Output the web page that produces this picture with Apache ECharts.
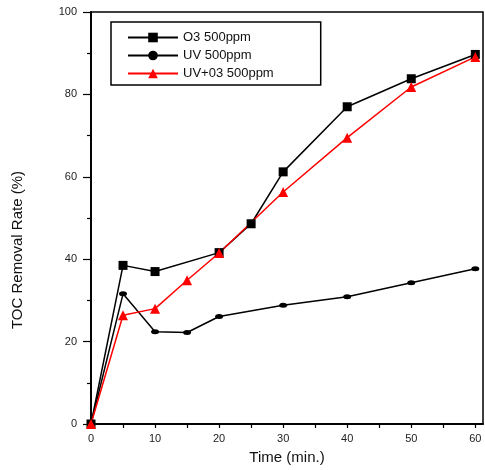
<!DOCTYPE html>
<html><head><meta charset="utf-8">
<script src="https://cdn.jsdelivr.net/npm/echarts@6/dist/echarts.min.js"></script>
<style>html,body{margin:0;padding:0;background:#fff}#c{width:485px;height:470px}</style>
</head><body><div id="c"></div>
<script>
const seriesNames = ['O3 500ppm', 'UV 500ppm', 'UV+03 500ppm'];
const timeO3 = [0, 5, 10, 20, 25, 30, 40, 50, 60];
const valO3 = [0, 38.5, 37, 41.6, 48.6, 61.2, 77, 83.8, 89.7];
const timeUV = [0, 5, 10, 15, 20, 30, 40, 50, 60];
const valUV = [0, 31.6, 22.4, 22.2, 26.1, 28.8, 30.9, 34.3, 37.7];
const timeMix = [0, 5, 10, 15, 20, 30, 40, 50, 60];
const valMix = [0, 26.4, 28, 34.9, 41.5, 56.3, 69.5, 81.8, 89.1];
const xTicks = [0, 5, 10, 15, 20, 25, 30, 35, 40, 45, 50, 55, 60];
const xLabels = [0, 10, 20, 30, 40, 50, 60];
const yLabels = [0, 20, 40, 60, 80, 100];

const pair = (xs, ys) => xs.map((x, i) => [x, ys[i]]);
const font = 'Liberation Sans, Arial, sans-serif';
const chart = echarts.init(document.getElementById('c'), null, {renderer: 'canvas'});
const xMax = 61.2;
chart.setOption({
  animation: false,
  backgroundColor: '#fff',
  textStyle: {fontFamily: font},
  grid: {left: 91, right: 2, top: 12, bottom: 42, show: true, borderColor: '#000', borderWidth: 1.5},
  legend: {
    left: 111, top: 22, orient: 'vertical',
    borderColor: '#000', borderWidth: 1.5, backgroundColor: '#fff',
    padding: [9, 47, 5, 16],
    itemWidth: 50, itemHeight: 12, itemGap: 5,
    textStyle: {fontSize: 13, color: '#111', fontFamily: font},
    data: seriesNames
  },
  xAxis: [{
    type: 'value', min: 0, max: xMax, position: 'bottom',
    name: 'Time (min.)', nameLocation: 'middle', nameGap: 26,
    nameTextStyle: {fontSize: 15, color: '#111', fontFamily: font},
    axisLine: {lineStyle: {color: '#000', width: 1.5}},
    axisTick: {show: true, length: 4, lineStyle: {color: '#000', width: 1.2}, customValues: xTicks},
    axisLabel: {fontSize: 11, color: '#222', margin: 9, customValues: xLabels, fontFamily: font},
    splitLine: {show: false}
  }, {
    type: 'value', min: 0, max: xMax, position: 'top',
    axisLine: {show: true, lineStyle: {color: '#000', width: 1.5}},
    axisTick: {show: true, inside: true, length: 3, lineStyle: {color: '#000'}, customValues: xTicks},
    axisLabel: {show: false},
    splitLine: {show: false}
  }],
  yAxis: [{
    type: 'value', min: 0, max: 100, interval: 20, position: 'left',
    name: 'TOC Removal Rate (%)', nameLocation: 'middle', nameGap: 66, nameRotate: 90,
    nameTextStyle: {fontSize: 15, color: '#111', fontFamily: font, padding: [0, 64, 0, 0]},
    axisLine: {lineStyle: {color: '#000', width: 1.5}},
    axisTick: {show: true, length: 8, lineStyle: {color: '#000', width: 1.2}},
    minorTick: {show: true, splitNumber: 2, length: 4, lineStyle: {color: '#000', width: 1.2}},
    axisLabel: {fontSize: 11, color: '#222', margin: 14, fontFamily: font},
    splitLine: {show: false}
  }, {
    type: 'value', min: 0, max: 100, interval: 20, position: 'right',
    axisLine: {show: true, lineStyle: {color: '#000', width: 1.5}},
    axisTick: {show: true, inside: true, length: 3, lineStyle: {color: '#000'}},
    minorTick: {show: true, splitNumber: 2, length: 3, lineStyle: {color: '#000'}},
    axisLabel: {show: false},
    splitLine: {show: false}
  }],
  series: [{
    name: seriesNames[0], type: 'line', data: pair(timeO3, valO3),
    symbol: 'rect', symbolSize: 9,
    lineStyle: {color: '#000', width: 1.5}, itemStyle: {color: '#000'}
  }, {
    name: seriesNames[1], type: 'line', data: pair(timeUV, valUV),
    symbol: 'circle', symbolSize: [8, 5],
    lineStyle: {color: '#000', width: 1.5}, itemStyle: {color: '#000'}
  }, {
    name: seriesNames[2], type: 'line', data: pair(timeMix, valMix),
    symbol: 'triangle', symbolSize: 10,
    lineStyle: {color: '#ff0000', width: 1.5}, itemStyle: {color: '#ff0000'}
  }]
});
</script></body></html>
